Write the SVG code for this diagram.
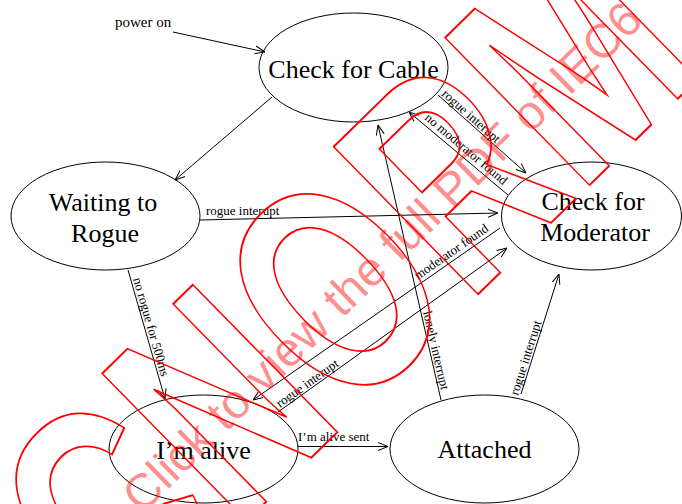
<svg xmlns="http://www.w3.org/2000/svg" width="682" height="504" viewBox="0 0 682 504">
<style>
.node ellipse{fill:#fff;stroke:#000;stroke-width:1}
.node text{font-family:"Liberation Serif","Times New Roman",serif;font-size:26px;fill:#000;text-anchor:middle}
.edges line{stroke:#000;stroke-width:1;fill:none;marker-end:url(#arr)}
.lbl{font-family:"Liberation Serif","Times New Roman",serif;font-size:13px;fill:#000}
.wm1{font-family:"Liberation Sans",Arial,sans-serif;font-weight:bold;font-size:300px;fill:none;stroke:#ff0000;stroke-width:2}
.wm2{font-family:"Liberation Sans",Arial,sans-serif;font-size:48px;fill:#ff0000;fill-opacity:0.45}
</style>
<defs>
<marker id="arr" viewBox="0 0 10 10" refX="10" refY="5" markerWidth="10" markerHeight="10" markerUnits="userSpaceOnUse" orient="auto">
<path d="M0,1 L10,5 L0,9" fill="none" stroke="#000" stroke-width="1"/>
</marker>
</defs>
<rect width="682" height="504" fill="#fff"/>
<g id="node-check-cable" class="node">
<ellipse cx="353.5" cy="67.5" rx="94.5" ry="54.5"/>
<text x="353.5" y="77.5">Check for Cable</text>
</g>
<g id="node-waiting-rogue" class="node">
<ellipse cx="105.5" cy="216" rx="94.5" ry="54"/>
<text x="103" y="211">Waiting to</text>
<text x="105" y="242">Rogue</text>
</g>
<g id="node-check-moderator" class="node">
<ellipse cx="591.5" cy="216" rx="90" ry="54"/>
<text x="593" y="210">Check for</text>
<text x="595" y="241">Moderator</text>
</g>
<g id="node-im-alive" class="node">
<ellipse cx="203.5" cy="449" rx="94.5" ry="54"/>
<text x="203.5" y="459">I’m alive</text>
</g>
<g id="node-attached" class="node">
<ellipse cx="484.5" cy="449" rx="94.5" ry="54"/>
<text x="484.5" y="458">Attached</text>
</g>
<g id="edges" class="edges">
<line x1="173" y1="32" x2="265" y2="52"/>
<line x1="272" y1="97" x2="175" y2="180"/>
<line x1="200" y1="220" x2="498" y2="213"/>
<line x1="438" y1="95" x2="526" y2="173"/>
<line x1="508" y1="195" x2="409" y2="112"/>
<line x1="500" y1="228" x2="253" y2="400"/>
<line x1="278" y1="412" x2="507" y2="248"/>
<line x1="128" y1="270" x2="165" y2="399"/>
<line x1="298" y1="446.5" x2="388" y2="446.5"/>
<line x1="441" y1="400" x2="378" y2="125"/>
<line x1="521" y1="394" x2="559" y2="274"/>
</g>
<g id="edge-labels">
<text class="lbl" x="115" y="27" style="font-size:15px">power on</text>
<text class="lbl" x="206" y="215">rogue interupt</text>
<text class="lbl" transform="translate(441,95) rotate(41.6)">rogue interupt</text>
<text class="lbl" transform="translate(424,119) rotate(40)">no moderator found</text>
<text class="lbl" transform="translate(418,280) rotate(-34.9)">moderator found</text>
<text class="lbl" transform="translate(280,408) rotate(-35.6)">rogue interupt</text>
<text class="lbl" transform="translate(133,279) rotate(74)">no rogue for 500ms</text>
<text class="lbl" x="298" y="441">I’m alive sent</text>
<text class="lbl" transform="translate(423,312) rotate(77.1)">lonely interrupt</text>
<text class="lbl" transform="translate(518,396) rotate(-72.4)">rogue interrupt</text>
</g>
<g id="watermark">
<text class="wm1" transform="translate(-21,783) rotate(-44.4) scale(0.72,1)">IECNORM.COM</text>
<text class="wm2" transform="translate(142,515) rotate(-44.4)">Click to view the full PDF of IEC6</text>
</g>
</svg>
